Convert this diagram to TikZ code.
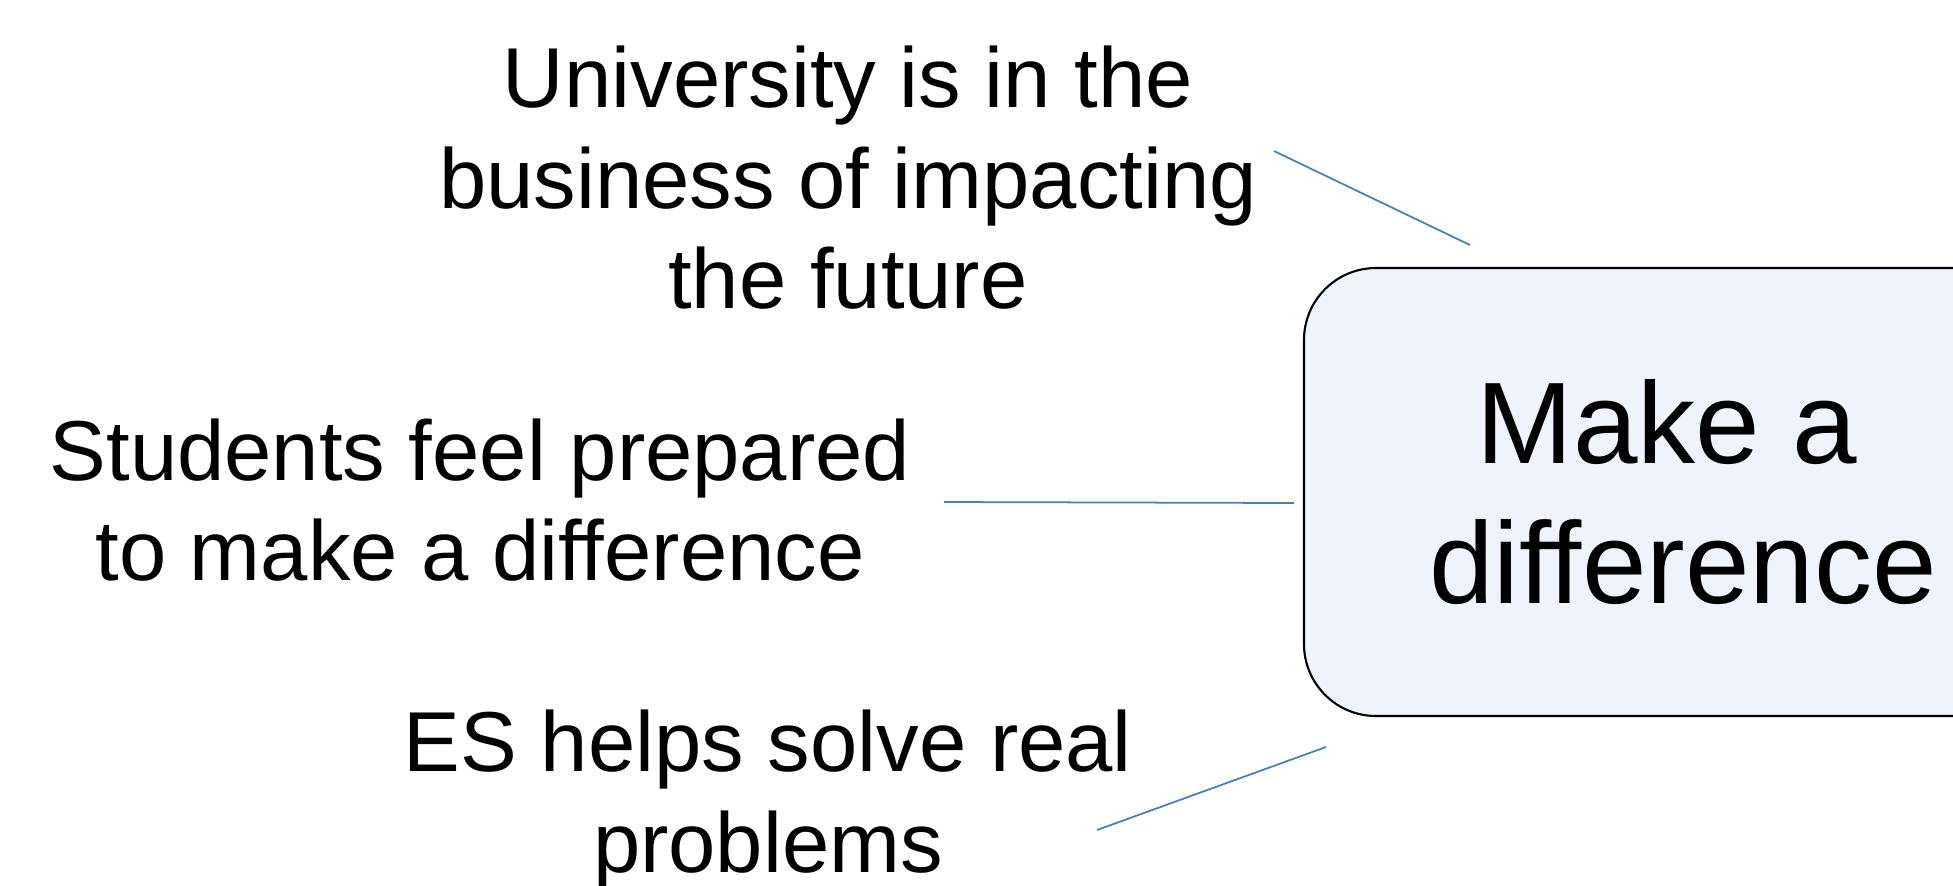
\documentclass[tikz,border=0pt]{standalone}
\usepackage{fontspec}
\setmainfont{Liberation Sans}
\usetikzlibrary{positioning}

\definecolor{linkblue}{RGB}{74,126,187}
\definecolor{boxfill}{RGB}{239,243,252}

\tikzset{
	reason/.style={align=center, inner sep=0pt, font=\fontsize{24.2}{28.6}\selectfont},
	goal/.style={draw=black, line width=0.6pt, fill=boxfill, rounded corners=0.72cm,
		align=center, inner sep=0pt, font=\fontsize{33}{40}\selectfont},
	link/.style={draw=linkblue, line width=0.5pt}
}

\begin{document}
\begin{tikzpicture}
	\useasboundingbox (0,0) rectangle (19.53,-8.85);
	
	% the goal box, running off the right edge
	\node[goal, minimum width=7.58cm, minimum height=4.48cm] (goal) at (16.83,-4.92)
		{Make a\kern.28em\\difference};
	
	% reasons round it
	\node[reason] (univ) at (8.48,-1.78) {University is in the\\business of impacting\\the future};
	\node[reason] (stud) at (4.80,-5.00) {Students feel prepared\\to make a difference};
	\node[reason] (es) at (7.68,-8.00) {ES helps solve real\\problems};
	
	% line ends
	\coordinate (univ-a) at (12.74,-1.51);
	\coordinate (univ-b) at (14.70,-2.45);
	\coordinate (stud-a) at (9.44,-5.02);
	\coordinate (stud-b) at (12.94,-5.03);
	\coordinate (es-a) at (10.97,-8.30);
	\coordinate (es-b) at (13.26,-7.47);
	
	\draw[link] (univ-a) -- (univ-b);
	\draw[link] (stud-a) -- (stud-b);
	\draw[link] (es-a) -- (es-b);
	
\end{tikzpicture}
\end{document}
